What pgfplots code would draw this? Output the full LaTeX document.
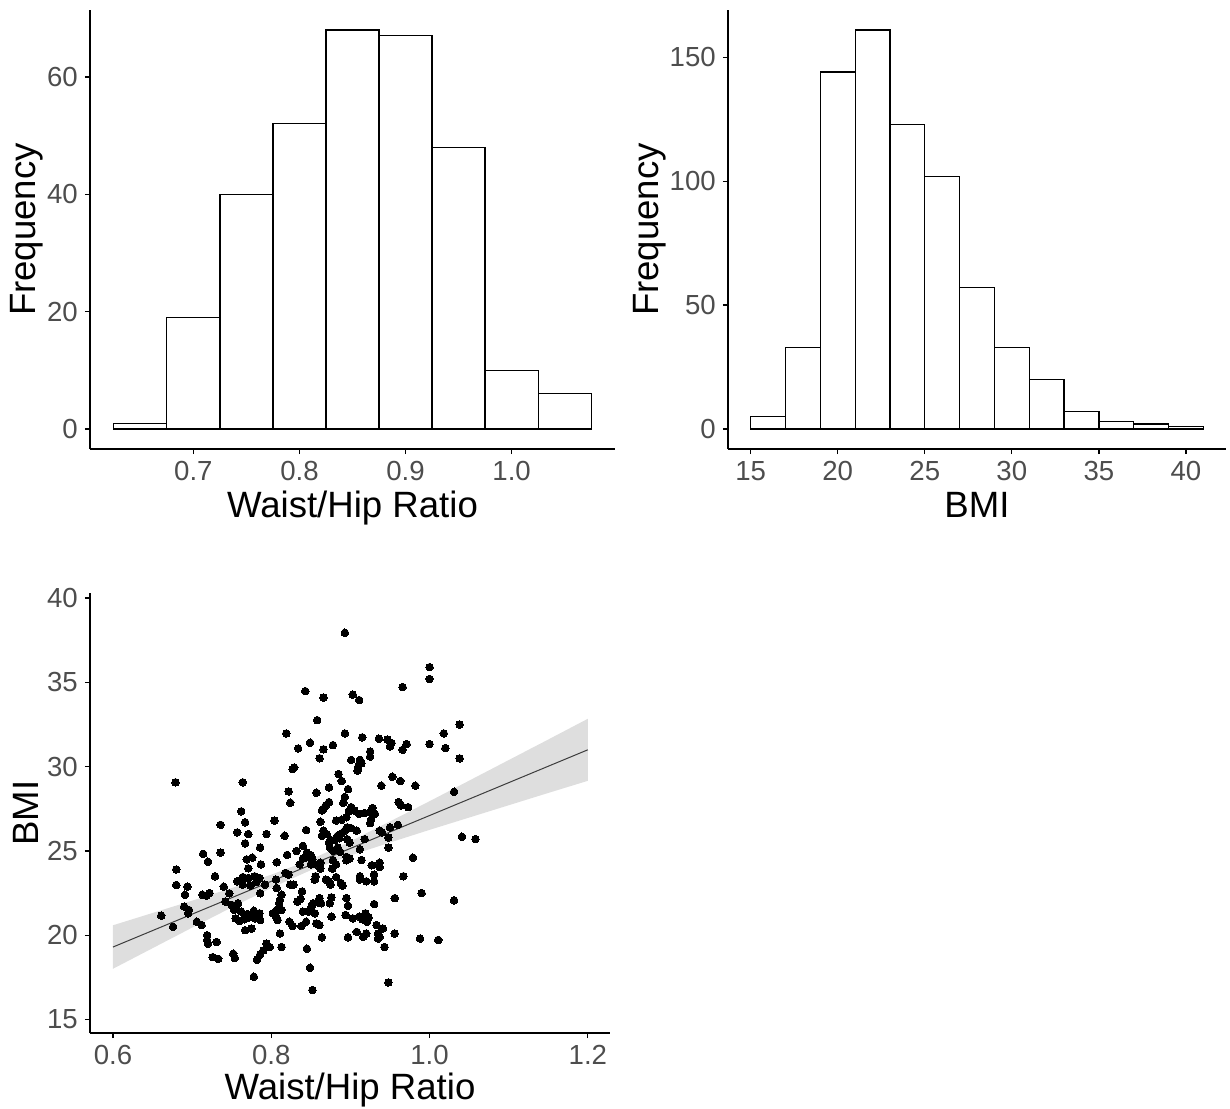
\documentclass[border=0pt]{standalone}
\usepackage{fontspec}
\setmainfont{Liberation Sans}
\usepackage{pgfplots}
\pgfplotsset{compat=1.18}
\definecolor{tickgray}{HTML}{4D4D4D}
\definecolor{bandgray}{HTML}{DEDEDE}
\definecolor{linegray}{HTML}{3C3C3C}
\pgfplotsset{
  ggclassic/.style={
    scale only axis,
    axis lines=left,
    axis line style={-, line width=0.65pt, black},
    tick align=outside,
    major tick length=2.6pt,
    tick style={line width=0.65pt, black},
    every tick label/.append style={font=\fontsize{13.8}{16}\selectfont, text=tickgray},
    /pgf/number format/assume math mode=true,
    label style={font=\fontsize{18.3}{22}\selectfont, text=black},
    minor tick num=0,
  }
}
\begin{document}
\begin{tikzpicture}
\useasboundingbox (0,0) rectangle (615pt,-554pt);
% ---------- top-left histogram ----------
\begin{axis}[ggclassic,
  at={(45pt,-224.5pt)}, anchor=south west,
  width=262.5pt, height=219.5pt,
  xmin=0.6025, xmax=1.0975, ymin=-3.4, ymax=71.4,
  xtick={0.7,0.8,0.9,1.0}, ytick={0,20,40,60},
  xticklabel style={/pgf/number format/.cd, fixed, fixed zerofill, precision=1},
  xlabel={Waist/Hip Ratio}, ylabel={Frequency},
  xlabel style={at={(axis description cs:0.5,-0.157)}, anchor=base},
  ylabel style={at={(axis description cs:-0.12,0.5)}, anchor=center},
]
\addplot[ybar interval, draw=black, fill=white, line width=0.6pt] coordinates {
(0.625,1) (0.675,19) (0.725,40) (0.775,52) (0.825,68) (0.875,67) (0.925,48) (0.975,10) (1.025,6) (1.075,6)};
\end{axis}
% ---------- top-right histogram ----------
\begin{axis}[ggclassic,
  at={(364pt,-224.5pt)}, anchor=south west,
  width=249pt, height=219.5pt,
  xmin=13.7, xmax=42.3, ymin=-8.05, ymax=169.05,
  xtick={15,20,25,30,35,40}, ytick={0,50,100,150},
  xlabel={BMI}, ylabel={Frequency},
  xlabel style={at={(axis description cs:0.5,-0.157)}, anchor=base},
  ylabel style={at={(axis description cs:-0.157,0.5)}, anchor=center},
]
\addplot[ybar interval, draw=black, fill=white, line width=0.6pt] coordinates {
(15,5) (17,33) (19,144) (21,161) (23,123) (25,102) (27,57) (29,33) (31,20) (33,7) (35,3) (37,2) (39,1) (41,1)};
\end{axis}
% ---------- bottom scatter ----------
\begin{axis}[ggclassic,
  at={(45pt,-516.5pt)}, anchor=south west,
  width=260pt, height=220pt,
  xmin=0.571, xmax=1.228, ymin=14.2, ymax=40.3,
  xtick={0.6,0.8,1.0,1.2}, ytick={15,20,25,30,35,40},
  xticklabel style={/pgf/number format/.cd, fixed, fixed zerofill, precision=1},
  xlabel={Waist/Hip Ratio}, ylabel={BMI},
  xlabel style={at={(axis description cs:0.5,-0.152)}, anchor=base},
  ylabel style={at={(axis description cs:-0.123,0.5)}, anchor=center},
]
\addplot[fill=bandgray, draw=none] coordinates {
(0.6,20.59) (0.65,21.32) (0.7,22.05) (0.75,22.80) (0.8,23.59) (0.85,24.49) (0.9,25.57) (0.95,26.75) (1.0,27.95) (1.05,29.17) (1.1,30.39) (1.15,31.61) (1.2,32.84)
(1.2,29.16) (1.15,28.44) (1.1,27.71) (1.05,26.98) (1.0,26.25) (0.95,25.50) (0.9,24.73) (0.85,23.86) (0.8,22.81) (0.75,21.65) (0.7,20.45) (0.65,19.23) (0.6,18.01)} -- cycle;
\addplot[only marks, mark=*, mark size=1.9pt, mark options={fill=black, draw=black, line width=0pt}] table {
x y
0.893 37.94
1.0 35.9
1.0 35.2
0.843 34.48
0.866 34.1
0.903 34.27
0.911 33.95
0.966 34.72
0.858 32.76
0.819 31.97
0.893 31.97
0.834 31.08
0.849 31.42
0.866 31.03
0.878 31.28
0.915 31.74
0.936 31.66
0.947 31.6
0.952 31.4
0.950 31.2
0.971 31.34
1.0 31.34
0.966 31.0
1.038 32.5
1.018 31.97
1.020 31.1
0.679 29.07
0.764 29.07
0.762 27.35
0.767 26.7
0.736 26.55
0.757 26.1
0.771 26.0
0.794 26.0
0.767 25.45
0.786 25.2
0.714 24.83
0.736 24.9
0.720 24.36
0.769 24.5
0.776 24.6
0.787 24.2
0.771 23.97
0.680 23.9
0.729 23.5
0.764 23.45
0.771 23.4
0.779 23.5
0.785 23.4
0.925 30.9
0.925 30.6
0.861 30.5
0.901 30.4
0.912 30.4
0.914 30.2
0.910 30.0
0.829 29.95
0.827 29.85
0.909 29.76
0.885 29.56
0.889 29.15
0.953 29.4
0.963 29.15
0.939 28.87
0.982 28.87
0.873 28.77
0.897 28.67
0.822 28.53
0.857 28.45
0.893 28.2
0.891 27.85
0.824 27.86
0.873 27.9
0.869 27.7
0.866 27.5
0.864 27.4
0.901 27.6
0.898 27.35
0.905 27.4
0.911 27.2
0.918 27.25
0.961 27.9
0.964 27.7
0.973 27.6
0.928 27.55
0.925 27.3
0.931 27.2
0.895 27.0
0.889 26.85
0.882 26.8
0.804 26.8
0.862 26.73
0.926 26.85
0.925 26.65
0.896 26.4
0.901 26.35
0.893 26.2
0.908 26.2
0.889 26.05
0.844 26.24
0.866 26.2
0.870 26.0
0.864 25.9
0.937 26.2
0.940 26.1
0.950 26.4
0.960 26.55
0.817 25.9
0.884 25.9
0.886 25.75
0.880 25.65
0.875 25.65
0.873 25.5
0.896 25.7
0.899 25.5
0.918 25.7
0.948 25.8
0.948 25.2
0.840 25.3
0.884 25.2
0.874 25.2
0.878 25.0
0.912 25.1
0.832 25.0
0.820 24.76
0.845 24.9
0.850 24.75
0.843 24.6
0.852 24.5
0.840 24.55
0.887 24.95
0.895 24.65
0.899 24.55
0.895 24.45
0.878 24.46
0.882 24.2
0.807 24.33
0.850 24.2
0.856 24.2
0.862 24.3
0.836 24.2
0.914 24.46
0.927 24.15
0.937 24.05
0.937 24.3
0.979 24.6
0.862 23.95
0.877 23.95
0.818 23.7
0.822 23.6
0.856 23.5
0.882 23.45
0.912 23.5
0.930 23.6
0.967 23.5
1.038 30.49
1.031 28.51
1.041 25.84
1.058 25.7
1.031 22.07
0.680 22.98
0.694 22.88
0.691 22.4
0.713 22.4
0.722 22.5
0.718 22.35
0.740 22.88
0.757 23.2
0.764 23.0
0.774 22.95
0.781 23.15
0.792 23.0
0.747 22.49
0.786 22.49
0.690 21.7
0.696 21.5
0.695 21.3
0.661 21.16
0.676 20.5
0.742 22.0
0.750 21.8
0.758 21.9
0.753 21.5
0.756 21.75
0.762 21.4
0.770 21.25
0.778 21.45
0.785 21.3
0.755 21.0
0.760 20.85
0.766 20.95
0.772 21.05
0.780 21.0
0.786 20.9
0.767 20.3
0.775 20.4
0.706 20.8
0.712 20.6
0.719 20.0
0.719 19.7
0.720 19.5
0.731 19.6
0.726 18.7
0.733 18.6
0.752 18.9
0.754 18.65
0.794 19.5
0.790 19.1
0.786 18.85
0.782 18.55
0.778 17.54
0.824 23.0
0.828 23.0
0.806 23.3
0.807 22.8
0.813 22.4
0.811 22.1
0.810 21.9
0.813 21.5
0.807 21.5
0.839 22.6
0.833 22.0
0.837 22.15
0.840 21.4
0.853 21.9
0.861 22.2
0.859 21.95
0.851 21.7
0.847 21.4
0.855 21.3
0.863 21.9
0.874 21.9
0.876 22.25
0.869 23.3
0.873 23.2
0.875 23.0
0.888 23.1
0.890 22.95
0.855 23.3
0.912 23.3
0.920 23.2
0.930 23.2
0.895 22.2
0.897 21.75
0.894 21.2
0.876 21.1
0.823 20.8
0.827 20.55
0.838 20.55
0.844 20.8
0.857 20.7
0.861 20.6
0.930 21.85
0.956 22.2
0.990 22.5
0.903 21.0
0.911 21.1
0.919 21.3
0.923 21.05
0.921 20.8
0.915 20.95
0.933 20.6
0.941 20.4
0.935 20.1
0.908 20.2
0.920 20.1
0.916 19.9
0.897 19.88
0.935 19.8
0.943 19.3
0.937 19.9
0.956 20.1
0.988 19.8
1.011 19.72
0.811 20.1
0.798 19.3
0.813 19.3
0.864 19.88
0.845 19.2
0.849 18.07
0.852 16.75
0.948 17.2
0.802 21.3
0.808 20.9
0.806 21.1
};
\addplot[line width=0.5pt, color=linegray] coordinates {(0.6,19.3) (1.2,31.0)};
\end{axis}
\end{tikzpicture}
\end{document}
